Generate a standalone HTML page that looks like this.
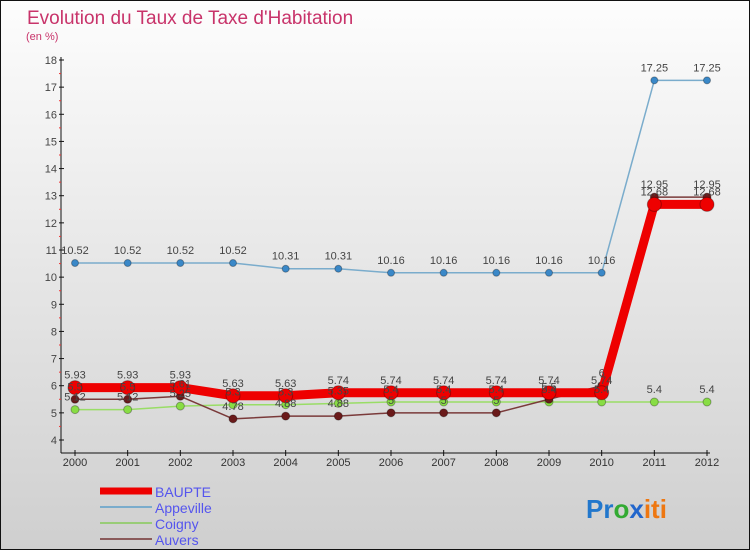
<!DOCTYPE html>
<html><head><meta charset="utf-8"><style>
body{margin:0;width:750px;height:550px;overflow:hidden;font-family:"Liberation Sans",sans-serif}
svg text{font-family:"Liberation Sans",sans-serif}
</style></head><body>
<svg id="chart" width="750" height="550">
<defs><linearGradient id="bg" x1="0" y1="0" x2="0" y2="1"><stop offset="0" stop-color="#fdfdfd"/><stop offset="1" stop-color="#cfcfcf"/></linearGradient></defs>
<rect x="0.5" y="0.5" width="749" height="549" fill="url(#bg)" stroke="#111"/>
<text x="27" y="24" font-size="19" fill="#c8336a">Evolution du Taux de Taxe d'Habitation</text>
<text x="26" y="40" font-size="11" fill="#c8336a">(en %)</text>
<g id="axes"></g><g id="series"></g><g id="labels"></g>
<g>
<line x1="100" y1="491" x2="152" y2="491" stroke="#e00" stroke-width="7"/><text x="155" y="497" font-size="14" fill="#55e">BAUPTE</text>
<line x1="100" y1="507" x2="152" y2="507" stroke="#7aaccc" stroke-width="2"/><text x="155" y="513" font-size="14" fill="#55e">Appeville</text>
<line x1="100" y1="523" x2="152" y2="523" stroke="#99cc77" stroke-width="2"/><text x="155" y="529" font-size="14" fill="#55e">Coigny</text>
<line x1="100" y1="539" x2="152" y2="539" stroke="#8a5a5a" stroke-width="2"/><text x="155" y="545" font-size="14" fill="#55e">Auvers</text>
</g>
<text x="586" y="518" font-size="26" font-weight="bold"><tspan fill="#2277cc">Pr</tspan><tspan fill="#33aa33">o</tspan><tspan fill="#2266cc">x</tspan><tspan fill="#ee7711">iti</tspan></text>
</svg>
<script>
const years=[2000,2001,2002,2003,2004,2005,2006,2007,2008,2009,2010,2011,2012];
const baupte=[5.93,5.93,5.93,5.63,5.63,5.74,5.74,5.74,5.74,5.74,5.74,12.68,12.68];
const appeville=[10.52,10.52,10.52,10.52,10.31,10.31,10.16,10.16,10.16,10.16,10.16,17.25,17.25];
const coigny=[5.12,5.12,5.25,5.3,5.3,5.35,5.4,5.4,5.4,5.4,5.4,5.4,5.4];
const auvers=[5.5,5.5,5.61,4.78,4.88,4.88,5,5,5,5.5,6,12.95,12.95];
const yTicks=[4,5,6,7,8,9,10,11,12,13,14,15,16,17,18];
const NS="http://www.w3.org/2000/svg";
const X=i=>75+i*(707-75)/(years.length-1);
const Y=v=>440-(v-4)*(380/14);
function mk(p,t,a){const e=document.createElementNS(NS,t);for(const k in a)e.setAttribute(k,a[k]);p.appendChild(e);return e;}
const ax=document.getElementById('axes'),se=document.getElementById('series'),lb=document.getElementById('labels');
let e=mk(ax,'line',{x1:61,y1:57,x2:61,y2:453,stroke:'#111'});

e=mk(ax,'line',{x1:61,y1:453,x2:710,y2:453,stroke:'#111'});

yTicks.forEach(v=>{mk(ax,'line',{x1:59,y1:Y(v),x2:64,y2:Y(v),stroke:'#111'});
 if(v<18)mk(ax,'line',{x1:59,y1:Y(v+0.5),x2:61,y2:Y(v+0.5),stroke:'#e33'});
 const t=mk(ax,'text',{x:57,y:Y(v)+4,'font-size':11,fill:'#444','text-anchor':'end'});t.textContent=v;
 });
years.forEach((y,i)=>{mk(ax,'line',{x1:X(i),y1:450,x2:X(i),y2:456,stroke:'#111'});
 const t=mk(ax,'text',{x:X(i),y:466,'font-size':11,fill:'#333','text-anchor':'middle'});t.textContent=y;
 });
function draw(name,data,color,w,r,dot){
 const pts=data.map((v,i)=>X(i)+','+Y(v)).join(' ');
 const l=mk(se,'polyline',{points:pts,fill:'none',stroke:color,'stroke-width':w,'stroke-linejoin':'round'});
 
 data.forEach((v,i)=>{const c=mk(se,'circle',{cx:X(i),cy:Y(v),r:r,fill:dot,stroke:'rgba(0,0,0,0.3)'});
  
  const t=mk(lb,'text',{x:X(i),y:Y(v)-9,'font-size':11,fill:'#444','text-anchor':'middle'});t.textContent=v;
  });
}
draw('appeville',appeville,'#7aaccc',1.5,3.5,'#3a88c8');
draw('coigny',coigny,'#99dd66',1.5,4,'#88dd44');
draw('auvers',auvers,'#7a3a3a',1.5,4,'#6a1a1a');
draw('baupte',baupte,'#ee0000',9,7,'#ee0000');
</script>
</body></html>
